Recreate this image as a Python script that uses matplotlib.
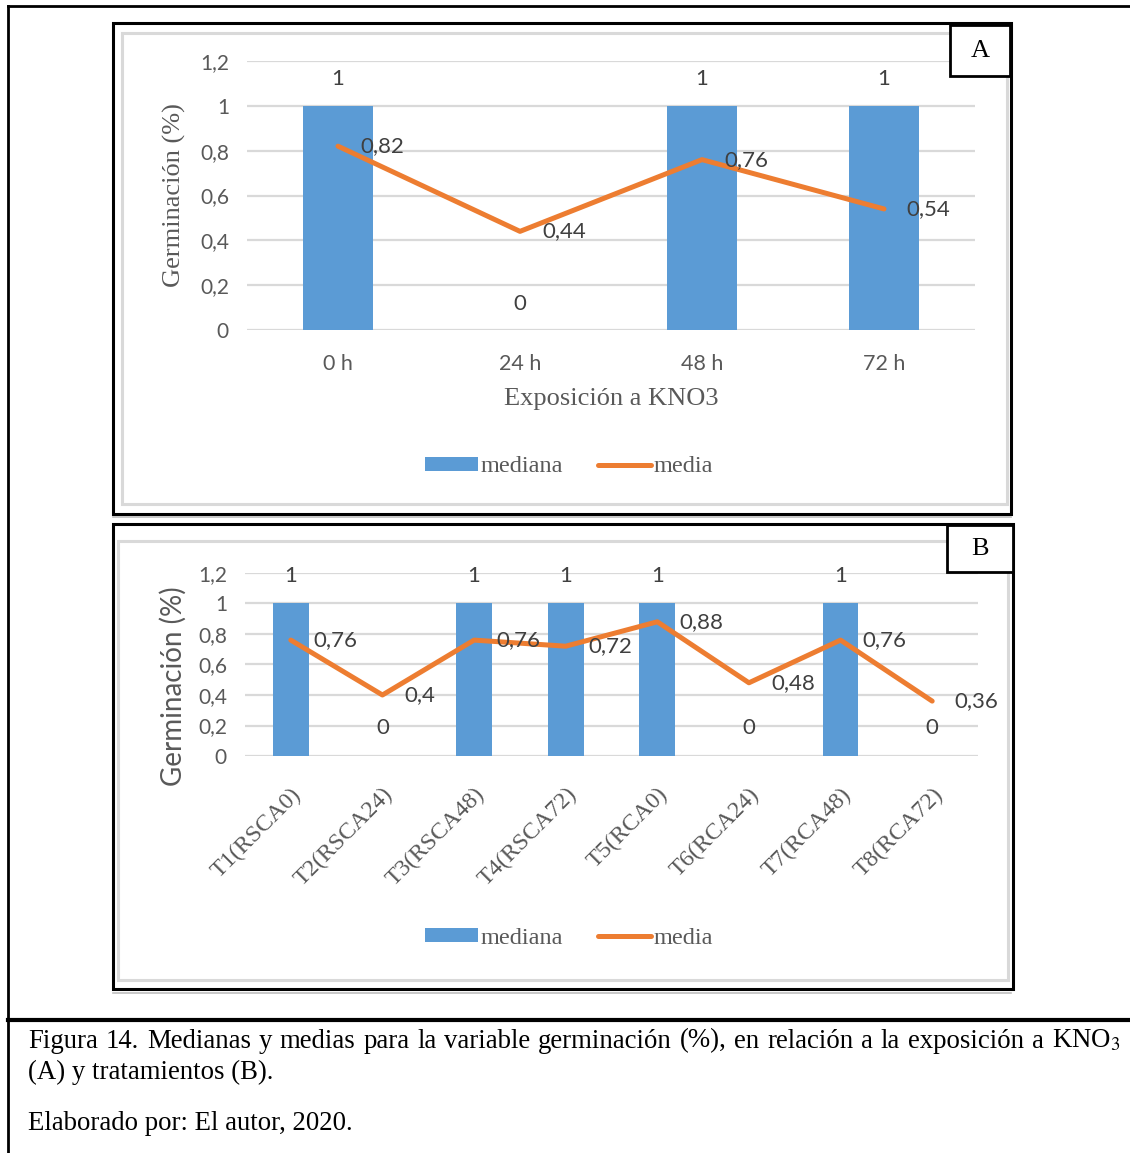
import numpy as np
import matplotlib.pyplot as plt
from matplotlib.patches import Rectangle, Patch
from matplotlib.lines import Line2D

# datos
horas = ['0 h', '24 h', '48 h', '72 h']
mediana_a = [1, 0, 1, 1]
media_a = [0.82, 0.44, 0.76, 0.54]

tratamientos = ['T1(RSCA0)', 'T2(RSCA24)', 'T3(RSCA48)', 'T4(RSCA72)',
                'T5(RCA0)', 'T6(RCA24)', 'T7(RCA48)', 'T8(RCA72)']
mediana_b = [1, 0, 1, 1, 1, 0, 1, 0]
media_b = [0.76, 0.4, 0.76, 0.72, 0.88, 0.48, 0.76, 0.36]

yticks = [0, 0.2, 0.4, 0.6, 0.8, 1.0, 1.2]

AZUL = '#5B9BD5'
NARANJA = '#ED7D31'
GRIS = '#595959'
GRID = '#D9D9D9'
SERIF = 'Liberation Serif'
SANS = 'Lato'

plt.rcParams['mathtext.fontset'] = 'stix'

W, H = 1130, 1153
fig = plt.figure(figsize=(W / 100, H / 100), dpi=100)
fig.patch.set_facecolor('white')


def caja(x0, y0, x1, y1):
    return [x0 / W, 1 - y1 / H, (x1 - x0) / W, (y1 - y0) / H]


def rect(x0, y0, x1, y1, color='black', lw=2, fc='none', z=1):
    r = Rectangle((x0 / W, 1 - y1 / H), (x1 - x0) / W, (y1 - y0) / H,
                  transform=fig.transFigure, fill=fc != 'none', facecolor=fc,
                  edgecolor=color, linewidth=lw, zorder=z)
    fig.add_artist(r)


def linea(xs, ys, color='black', lw=2):
    fig.add_artist(Line2D([x / W for x in xs], [1 - y / H for y in ys],
                          transform=fig.transFigure, color=color, linewidth=lw))


def coma(v):
    return ('%g' % v).replace('.', ',')


def grafico(ax, cats, med, mean, rotar=False):
    x = np.arange(len(cats))
    ax.bar(x, med, width=0.39, color=AZUL, zorder=2)
    ax.plot(x, mean, color=NARANJA, lw=3.6, solid_joinstyle='round',
            solid_capstyle='round', zorder=3)
    ax.set_xlim(-0.5, len(cats) - 0.5)
    ax.set_ylim(0, 1.2)
    ax.set_yticks(yticks)
    ax.set_yticklabels([coma(v) for v in yticks], family=SANS, fontsize=15,
                       color=GRIS)
    ax.yaxis.grid(True, color=GRID, lw=1.6)
    ax.set_axisbelow(True)
    for s in ax.spines.values():
        s.set_visible(False)
    ax.tick_params(length=0)
    ax.tick_params(axis='y', pad=13)
    ax.set_xticks(x)
    if rotar:
        ax.set_xticklabels(cats, family=SERIF, fontsize=17.3, color=GRIS,
                           rotation=45, ha='right', va='top',
                           rotation_mode='anchor')
        ax.tick_params(axis='x', pad=20)
        off_bar = 20
    else:
        ax.set_xticklabels(cats, family=SANS, fontsize=15.5, color=GRIS)
        ax.tick_params(axis='x', pad=17)
        off_bar = 19
    for i, v in enumerate(med):
        ax.annotate(coma(v), (i, v), xytext=(0, off_bar), textcoords='offset points',
                    ha='center', va='center', family=SANS, fontsize=16,
                    color='#404040')
    for i, v in enumerate(mean):
        ax.annotate(coma(v), (i, v), xytext=(16, 0), textcoords='offset points',
                    ha='left', va='center', family=SANS, fontsize=16,
                    color='#404040', zorder=4)


# marco general
linea([8, 8], [6, 1153], lw=2)
linea([8, 1130], [6, 6], lw=2)
linea([8, 1130], [1020, 1020], lw=3)

# panel A
rect(122, 33, 1007, 504, color=GRID, lw=2.2)
rect(113, 23, 1011, 514, lw=2.2)
linea([113, 1011], [517, 517], color='#BFBFBF', lw=1.2)
axa = fig.add_axes(caja(247, 61, 975, 330))
grafico(axa, horas, mediana_a, media_a)
axa.set_xlabel('Exposición a KNO3', family=SERIF, fontsize=19, color=GRIS,
               labelpad=10)
axa.set_ylabel('Germinación (%)', family=SERIF, fontsize=19, color=GRIS,
               labelpad=10)
rect(950, 25, 1010, 76, lw=2, fc='white', z=5)
fig.text(980 / W, 1 - 51 / H, 'A', family=SERIF, fontsize=19, ha='center',
         va='center', zorder=6)

# panel B
rect(118, 541, 1008, 980, color=GRID, lw=2.2)
rect(113, 524, 1013, 989, lw=2.2)
linea([113, 1011], [993, 993], color='#BFBFBF', lw=1.2)
axb = fig.add_axes(caja(245, 573, 978, 756))
grafico(axb, tratamientos, mediana_b, media_b, rotar=True)
axb.set_ylabel('Germinación (%)', family=SANS, fontsize=20, color=GRIS)
axb.yaxis.set_label_coords(-0.079, 0.38)
rect(947, 525, 1013, 572, lw=2, fc='white', z=5)
fig.text(980 / W, 1 - 549 / H, 'B', family=SERIF, fontsize=19, ha='center',
         va='center', zorder=6)

# leyendas
manejadores = [Patch(facecolor=AZUL, edgecolor='none'),
               Line2D([], [], color=NARANJA, lw=3.6, solid_capstyle='round')]
for yc in (467, 938):
    fig.legend(manejadores, ['mediana', 'media'], loc='center',
               bbox_to_anchor=(569 / W, 1 - yc / H), ncol=2, frameon=False,
               prop={'family': SERIF, 'size': 17.5}, labelcolor=GRIS,
               handlelength=2.2, handleheight=0.55, handletextpad=0.12,
               columnspacing=1.4)

# pie de figura, primera linea justificada
renderer = fig.canvas.get_renderer()
palabras = ('Figura 14. Medianas y medias para la variable germinación (%), '
            'en relación a la exposición a KNO$_3$').split(' ')
textos = [fig.text(0, 1 - 1041 / H, p, family=SERIF, fontsize=19.3,
                   ha='left', va='center') for p in palabras]
anchos = [t.get_window_extent(renderer).width for t in textos]
hueco = (1120 - 28 - sum(anchos)) / (len(anchos) - 1)
xpos = 28
for t, a in zip(textos, anchos):
    t.set_x(xpos / W)
    xpos += a + hueco

fig.text(28 / W, 1 - 1072 / H, '(A) y tratamientos (B).',
         family=SERIF, fontsize=19.3, ha='left', va='center')
fig.text(28 / W, 1 - 1124 / H, 'Elaborado por: El autor, 2020.',
         family=SERIF, fontsize=19.3, ha='left', va='center')

fig.savefig('out.png', dpi=100)
